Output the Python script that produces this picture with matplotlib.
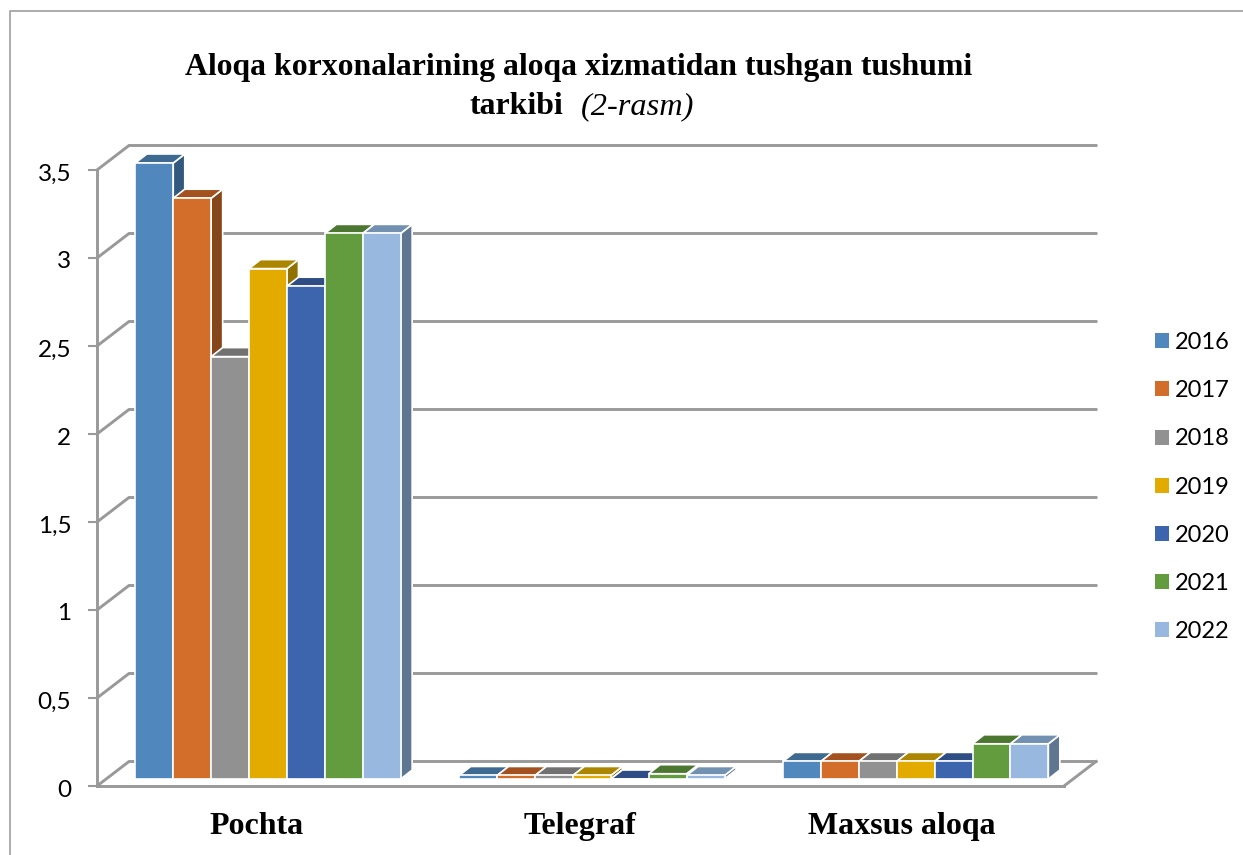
import matplotlib
matplotlib.use("Agg")
import matplotlib.pyplot as plt
from matplotlib.lines import Line2D
from matplotlib.patches import Patch, Polygon
from matplotlib.transforms import ScaledTranslation

categories = ["Pochta", "Telegraf", "Maxsus aloqa"]
years = ["2016", "2017", "2018", "2019", "2020", "2021", "2022"]
pochta = [3.5, 3.3, 2.4, 2.9, 2.8, 3.1, 3.1]
telegraf = [0.02, 0.02, 0.02, 0.02, 0.0, 0.03, 0.02]
maxsus = [0.1, 0.1, 0.1, 0.1, 0.1, 0.2, 0.2]
yticks = [0, 0.5, 1, 1.5, 2, 2.5, 3, 3.5]
yticklabels = ["0", "0,5", "1", "1,5", "2", "2,5", "3", "3,5"]

front = ["#5087BD", "#D36D2A", "#919191", "#E3AA00", "#3C65AE", "#639B3F", "#98B8E0"]
top = ["#3E6A91", "#A3521F", "#717171", "#AD8600", "#2F4D85", "#4C7730", "#7290B0"]
side = ["#32597D", "#85461A", "#5F5F5F", "#917100", "#27406F", "#3F6328", "#5F7690"]
gray = "#999999"

W, H = 1243, 855
plt.rcParams["font.family"] = "Lato"
fig = plt.figure(figsize=(W / 100, H / 100), dpi=100)
ax = fig.add_axes([97 / W, (H - 786) / H, (1064 - 97) / W, (786 - 170) / H])
ax.set_xlim(-0.527, 2.453)
ax.set_ylim(0, 3.5)

# pixel sizes converted to data units
px_x = 1 / 324.5
px_y = 1 / 176
wall_dx, wall_dy = 32 * px_x, 24.5 * px_y
bar_w = 37.9 * px_x
depth_x, depth_y = 11.5 * px_x, 9 * px_y
base = 7 * px_y
step = 0.998

# back wall and floor
for v in yticks:
    ax.plot([-0.527, -0.527 + wall_dx, 2.453 + wall_dx], [v, v + wall_dy, v + wall_dy],
            color=gray, lw=2.1, clip_on=False, zorder=1, solid_joinstyle="miter")
ax.plot([2.453, 2.453 + wall_dx], [0, wall_dy], color=gray, lw=2.1, clip_on=False, zorder=1)

# bars, left to right so each one hides the side of the previous one
for i, values in enumerate([pochta, telegraf, maxsus]):
    for j, v in enumerate(values):
        x0 = i * step + (j - 3.5) * bar_w
        x1 = x0 + bar_w
        y0 = base
        y1 = base + v
        z = 3 + i * 10 + j
        ax.add_patch(Polygon([(x1, y0), (x1 + depth_x, y0 + depth_y), (x1 + depth_x, y1 + depth_y), (x1, y1)],
                             fc=side[j], ec="white", lw=1.2, clip_on=False, zorder=z))
        ax.add_patch(Polygon([(x0, y1), (x0 + depth_x, y1 + depth_y), (x1 + depth_x, y1 + depth_y), (x1, y1)],
                             fc=top[j], ec="white", lw=1.2, clip_on=False, zorder=z))
        ax.bar(x0, v, bar_w, bottom=y0, align="edge", color=front[j], edgecolor="white", lw=1.2,
               clip_on=False, zorder=z)

ax.set_xlim(-0.527, 2.453)
ax.set_ylim(0, 3.5)
for s in ["top", "right"]:
    ax.spines[s].set_visible(False)
for s in ["left", "bottom"]:
    ax.spines[s].set_color(gray)
    ax.spines[s].set_linewidth(2.1)
ax.set_yticks(yticks)
ax.set_yticklabels(yticklabels, fontsize=17.5)
ax.tick_params(axis="y", length=6.5, width=1.5, color=gray, pad=12)
shift = ScaledTranslation(0, -2 / 100, fig.dpi_scale_trans)
for lab in ax.get_yticklabels():
    lab.set_transform(lab.get_transform() + shift)
ax.set_xticks([-0.034, 0.96, 1.954])
ax.set_xticklabels(categories, family="Liberation Serif", weight="bold", fontsize=23)
ax.tick_params(axis="x", length=0, pad=18.5)

# title
fig.text(578.5 / W, 1 - 67 / H, "Aloqa korxonalarining aloqa xizmatidan tushgan tushumi",
         family="Liberation Serif", weight="bold", fontsize=22.9, ha="center", va="center")
fig.text(563 / W, 1 - 107 / H, "tarkibi", family="Liberation Serif", weight="bold",
         fontsize=22.9, ha="right", va="center")
fig.text(581 / W, 1 - 107 / H, "(2-rasm)", family="Liberation Serif", style="italic",
         fontsize=23.3, ha="left", va="center")

# legend
handles = [Patch(fc=c, ec="none") for c in front]
fig.legend(handles, years, loc="center left", bbox_to_anchor=(1134 / W, 1 - 487 / H),
           frameon=False, fontsize=17, handlelength=0.6, handleheight=0.6,
           handletextpad=0.22, labelspacing=1.15)

# outer border of the chart area
fig.add_artist(Line2D([9.5 / W, 9.5 / W, 1], [0, 1 - 11 / H, 1 - 11 / H], color="#A6A6A6", lw=1.3))

fig.savefig("out.png", dpi=100)
